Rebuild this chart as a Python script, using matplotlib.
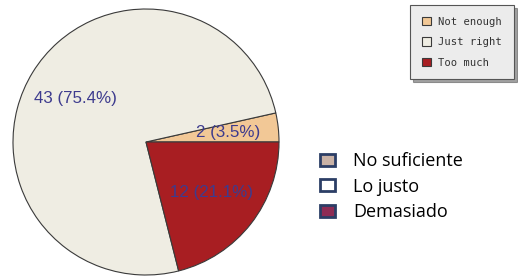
import matplotlib
matplotlib.use("Agg")
import matplotlib.pyplot as plt
from matplotlib.patches import Patch

# Data
categories = ["Not enough", "Just right", "Too much"]
counts = [2, 43, 12]
colors = ["#f2c896", "#efede3", "#a81e22"]
legend2_labels = ["No suficiente", "Lo justo", "Demasiado"]
legend2_colors = ["#c9b2a6", "#ffffff", "#8e2c55"]

W, H = 518, 279
fig = plt.figure(figsize=(W / 100, H / 100), dpi=100)
fig.patch.set_facecolor("white")
ax = fig.add_axes([0, 0, 1, 1])
ax.set_axis_off()

total = sum(counts)

def fmt(p):
    return f"{round(p * total / 100)} ({p:.1f}%)"

wedges, texts, autotexts = ax.pie(
    counts, colors=colors, startangle=0, counterclock=True,
    center=(146, H - 142), radius=133, autopct=fmt, pctdistance=0.62,
    wedgeprops=dict(edgecolor="#3a3a3a", linewidth=0.8),
    textprops=dict(color="#3d3b8e", fontsize=12.2, family="Liberation Sans"),
)
ax.set_xlim(0, W)
ax.set_ylim(0, H)
ax.set_aspect("equal")

leg1 = fig.legend(
    wedges, categories, loc="upper left",
    bbox_to_anchor=(410 / W, 1 - 5 / H), bbox_transform=fig.transFigure,
    prop=dict(family="DejaVu Sans Mono", size=7.6),
    frameon=True, fancybox=False, shadow=True,
    handlelength=0.85, handleheight=0.85, handletextpad=0.75,
    labelspacing=1.0, borderpad=1.1, borderaxespad=0,
    labelcolor="#333333",
)
leg1.get_frame().set_facecolor("#ececec")
leg1.get_frame().set_edgecolor("#555555")
leg1.get_frame().set_linewidth(0.8)

handles2 = [Patch(facecolor=c, edgecolor="#2c3e66", linewidth=2.0) for c in legend2_colors]
leg2 = fig.legend(
    handles2, legend2_labels, loc="upper left",
    bbox_to_anchor=(320 / W, 1 - 152 / H), bbox_transform=fig.transFigure,
    prop=dict(family="Open Sans", size=13),
    frameon=False, handlelength=0.85, handleheight=0.65,
    handletextpad=1.0, labelspacing=0.42, borderpad=0, borderaxespad=0,
)

fig.savefig("out.png", dpi=100, facecolor="white")
